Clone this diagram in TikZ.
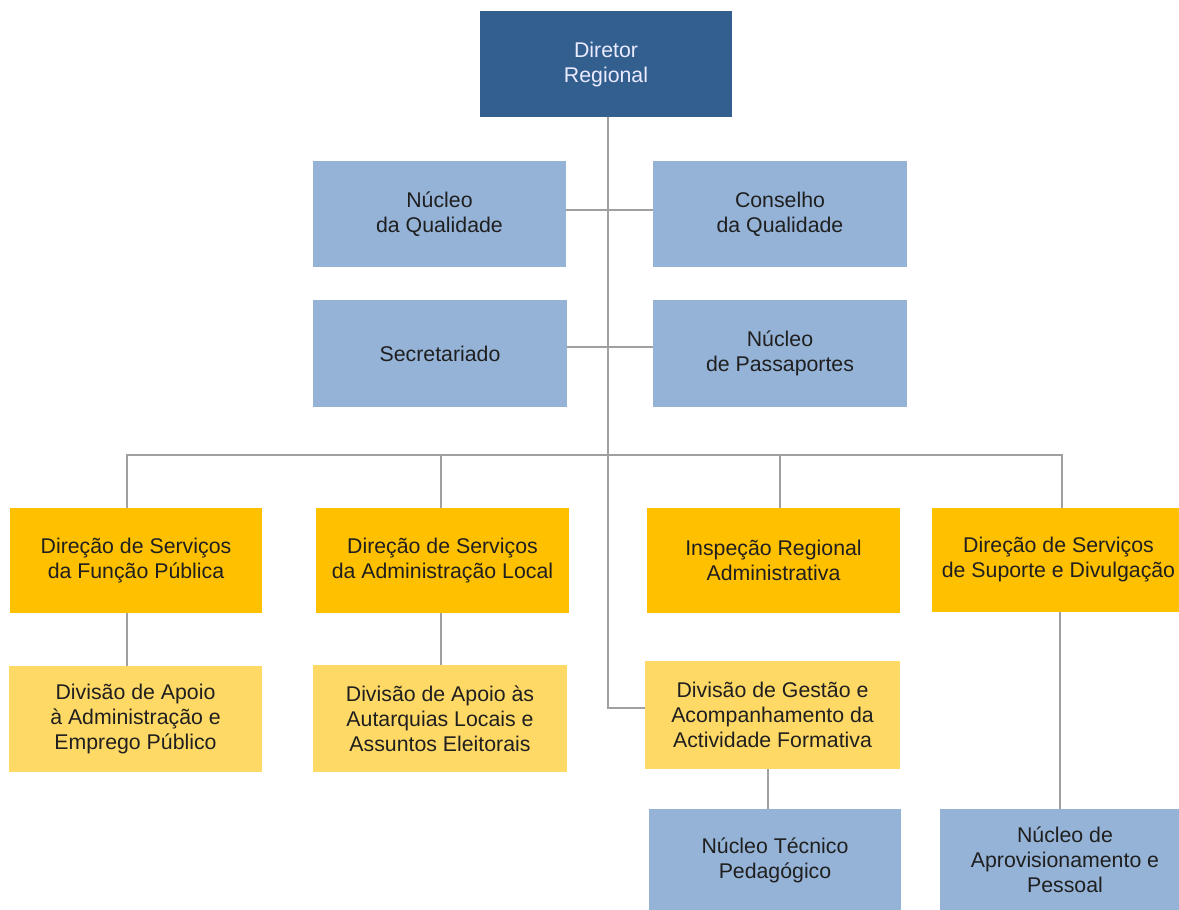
\documentclass[tikz,border=0pt]{standalone}
\usepackage{fontspec}
\setmainfont{Liberation Sans}
\definecolor{dblue}{HTML}{335F8F}
\definecolor{lblue}{HTML}{95B3D7}
\definecolor{orng}{HTML}{FFC000}
\definecolor{lyel}{HTML}{FFD966}
\definecolor{conn}{HTML}{A0A0A0}
\begin{document}
\begin{tikzpicture}[x=1pt,y=-1pt,
  box/.style={inner sep=0pt, align=center, font=\fontsize{21.3}{25}\selectfont, text=black!88},
  topbox/.style={box, fill=dblue, text=white!92!blue},
  bluebox/.style={box, fill=lblue},
  orbox/.style={box, fill=orng},
  yelbox/.style={box, fill=lyel},
  link/.style={draw=conn, line width=1.5pt}]
\useasboundingbox (0,0) rectangle (1179,910);
\clip (0,0) rectangle (1179,910);

\node[topbox, minimum width=252pt, minimum height=106pt] (dir) at (606,64) {Diretor\\Regional};
\node[bluebox, minimum width=253pt, minimum height=106pt] (nq) at (439.5,214) {Núcleo\\da Qualidade};
\node[bluebox, minimum width=254pt, minimum height=106pt] (cq) at (780,214) {Conselho\\da Qualidade};
\node[bluebox, minimum width=254pt, minimum height=107pt] (sec) at (440,353.5) {Secretariado};
\node[bluebox, minimum width=254pt, minimum height=107pt] (np) at (780,353.5) {Núcleo\\de Passaportes};

\node[orbox, minimum width=252pt, minimum height=105pt] (dsfp) at (136,560.5) {Direção de Serviços\\da Função Pública};
\node[orbox, minimum width=253pt, minimum height=105pt] (dsal) at (442.5,560.5) {Direção de Serviços\\da Administração Local};
\node[orbox, minimum width=253pt, minimum height=105pt] (ira) at (773.5,560.5) {Inspeção Regional\\Administrativa};
\node[orbox, minimum width=253pt, minimum height=104pt] (dssd) at (1058.5,560) {Direção de Serviços\\de Suporte e Divulgação};

\node[yelbox, minimum width=253pt, minimum height=106pt] (daae) at (135.5,719) {Divisão de Apoio\\à Administração e\\Emprego Público};
\node[yelbox, minimum width=254pt, minimum height=107pt] (daal) at (440,718.5) {Divisão de Apoio às\\Autarquias Locais e\\Assuntos Eleitorais};
\node[yelbox, minimum width=255pt, minimum height=108pt] (dgaf) at (772.5,715) {Divisão de Gestão e\\Acompanhamento da\\Actividade Formativa};

\node[bluebox, minimum width=252pt, minimum height=102pt] (ntp) at (775,860) {Núcleo Técnico\\Pedagógico};
\node[bluebox, minimum width=250pt, minimum height=102pt] (nap) at (1065,860) {Núcleo de\\Aprovisionamento e\\Pessoal};

\coordinate (bus) at (608,455);
\coordinate (trunktop) at (dir.south -| bus);
\coordinate (turn) at (608,708);

\draw[link] (trunktop) -- (turn) -- (turn -| dgaf.west);
\draw[link] (nq.east |- 0,210) -- (cq.west |- 0,210);
\draw[link] (sec.east |- 0,347) -- (np.west |- 0,347);
\draw[link] (dsfp.north -| 127,0) |- (bus) -| (dssd.north -| 1062,0);
\draw[link] (dsal.north -| 441,0) -- (441,455);
\draw[link] (ira.north -| 780,0) -- (780,455);
\draw[link] (dsfp.south -| 127,0) -- (daae.north -| 127,0);
\draw[link] (dsal.south -| 441,0) -- (daal.north -| 441,0);
\draw[link] (dgaf.south -| 768,0) -- (ntp.north -| 768,0);
\draw[link] (dssd.south -| 1060,0) -- (nap.north -| 1060,0);
\end{tikzpicture}
\end{document}
